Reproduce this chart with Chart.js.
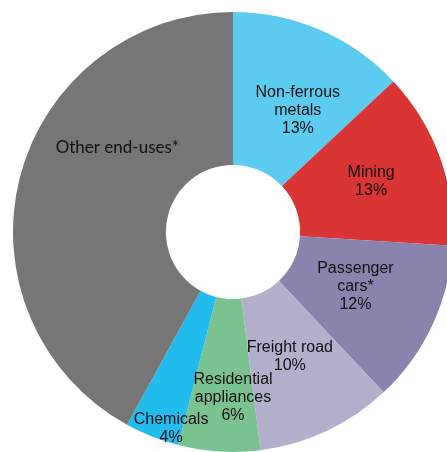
<!DOCTYPE html>
<html>
<head>
<meta charset="utf-8">
<script src="https://cdn.jsdelivr.net/npm/chart.js@4.4.1/dist/chart.umd.min.js"></script>
<style>
  html, body { margin: 0; padding: 0; background: #fff; overflow: hidden; }
  #wrap { position: absolute; left: 0; top: 0; width: 466px; height: 464px; }
</style>
</head>
<body>
<div id="wrap"><canvas id="myChart" width="466" height="464"></canvas></div>
<script>
// end-use shares (%)
const categories = ['Non-ferrous metals', 'Mining', 'Passenger cars*', 'Freight road', 'Residential appliances', 'Chemicals', 'Other end-uses*'];
const shares = [13, 13, 12, 10, 6, 4, 42];
// how each label is broken into lines
const labelLines = [
  ['Non-ferrous', 'metals'],
  ['Mining'],
  ['Passenger', 'cars*'],
  ['Freight road'],
  ['Residential', 'appliances'],
  ['Chemicals'],
  ['Other end-uses*']
];
const colors = ['#5BCBF0', '#D93535', '#8A83AE', '#B3B0CD', '#7BC291', '#22BBEE', '#767676'];

// label placement: [radius in px from centre, angle in degrees clockwise from top]
const labelPos = [[138, 28], [147, 70], [134, 114], [137, 155.5], [166, 180], [206, 197.5], [143, 306]];

const labelPlugin = {
  id: 'sliceLabels',
  afterDatasetsDraw(chart) {
    const ctx = chart.ctx;
    const arc0 = chart.getDatasetMeta(0).data[0];
    const cx = arc0.x, cy = arc0.y;
    ctx.save();
    ctx.fillStyle = '#111';
    ctx.textAlign = 'center';
    ctx.textBaseline = 'middle';
    shares.forEach((v, i) => {
      const r = labelPos[i][0];
      const a = labelPos[i][1] * Math.PI / 180;
      const x = cx + r * Math.sin(a);
      const y = cy - r * Math.cos(a);
      let lines = labelLines[i].slice();
      if (i === 6) {
        ctx.font = '17px Lato, "Open Sans", sans-serif';
      } else {
        ctx.font = '16px "Liberation Sans", Arial, sans-serif';
        lines.push(v + '%');
      }
      const lh = 18;
      const top = y - (lines.length - 1) * lh / 2;
      lines.forEach((t, k) => ctx.fillText(t, x, top + k * lh));
    });
    ctx.restore();
  }
};

new Chart(document.getElementById('myChart').getContext('2d'), {
  type: 'doughnut',
  data: {
    labels: categories,
    datasets: [{
      data: shares,
      backgroundColor: colors,
      borderWidth: 0
    }]
  },
  options: {
    responsive: false,
    animation: false,
    cutout: '30.5%',
    layout: { padding: 12 },
    plugins: {
      legend: { display: false },
      tooltip: { enabled: false }
    }
  },
  plugins: [labelPlugin]
});
</script>
</body>
</html>
